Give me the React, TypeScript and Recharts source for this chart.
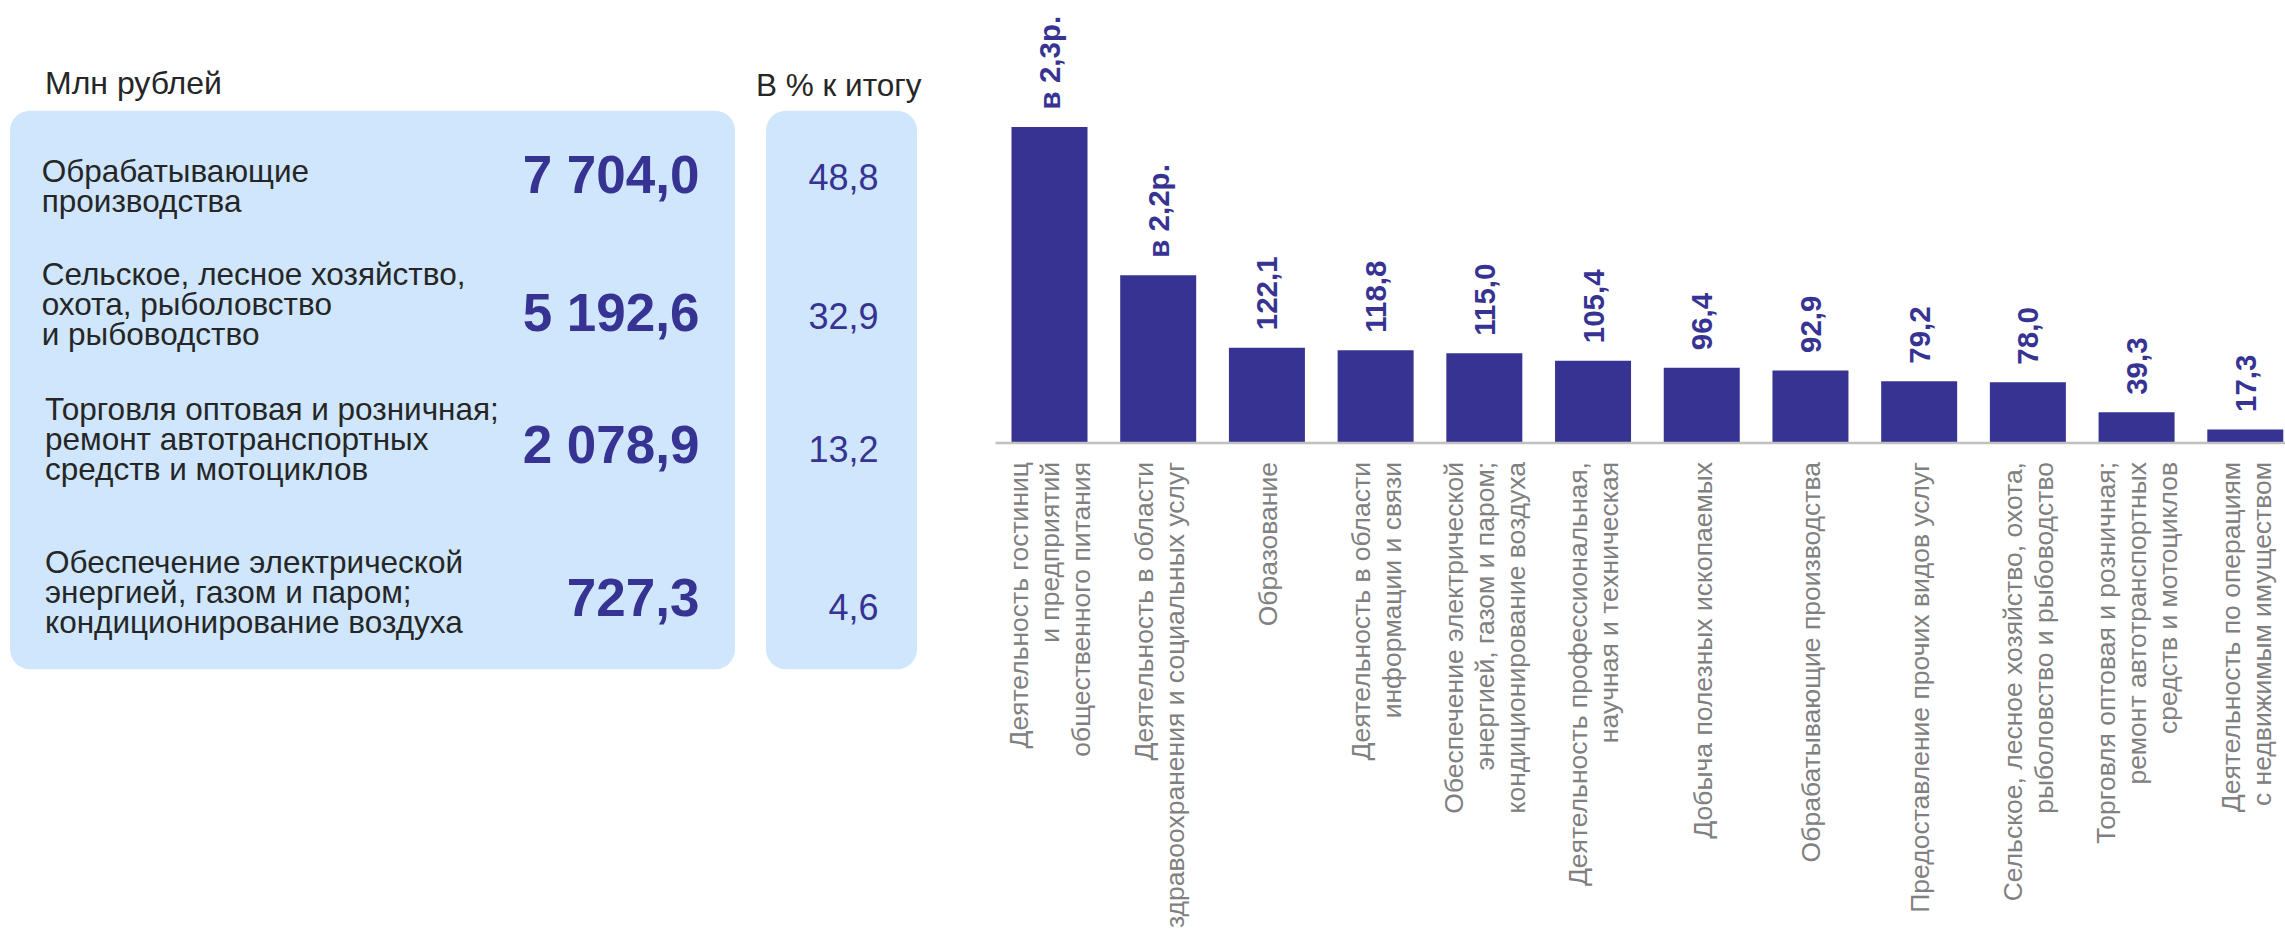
import { BarChart, Bar, XAxis, YAxis, LabelList } from 'recharts';

// left panel
const panelLabels = [
  ['Обрабатывающие', 'производства'],
  ['Сельское, лесное хозяйство,', 'охота, рыболовство', 'и рыбоводство'],
  ['Торговля оптовая и розничная;', 'ремонт автотранспортных', 'средств и мотоциклов'],
  ['Обеспечение электрической', 'энергией, газом и паром;', 'кондиционирование воздуха'],
];
const panelValues = ['7 704,0', '5 192,6', '2 078,9', '727,3'];
const panelShares = ['48,8', '32,9', '13,2', '4,6'];

// bar chart
const categories = [
  'Деятельность гостиниц\nи предприятий\nобщественного питания',
  'Деятельность в области\nздравоохранения и социальных услуг',
  'Образование',
  'Деятельность в области\nинформации и связи',
  'Обеспечение электрической\nэнергией, газом и паром;\nкондиционирование воздуха',
  'Деятельность профессиональная,\nнаучная и техническая',
  'Добыча полезных ископаемых',
  'Обрабатывающие производства',
  'Предоставление прочих видов услуг',
  'Сельское, лесное хозяйство, охота,\nрыболовство и рыбоводство',
  'Торговля оптовая и розничная;\nремонт автотранспортных\nсредств и мотоциклов',
  'Деятельность по операциям\nс недвижимым имуществом',
];
const values = [405, 215, 122.1, 118.8, 115.0, 105.4, 96.4, 92.9, 79.2, 78.0, 39.3, 17.3];
const valueLabels = ['в 2,3р.', 'в 2,2р.', '122,1', '118,8', '115,0', '105,4', '96,4', '92,9', '79,2', '78,0', '39,3', '17,3'];

const data = categories.map((name, i) => ({ name, value: values[i], label: valueLabels[i] }));

const FONT = '"Liberation Sans", Arial, sans-serif';
const BLUE = '#363392';
const BOX = '#cfe6fc';
const DARK = '#262626';

// baselines for the panel rows
const rowTextY = [181.7, 285, 420, 572.7];
const rowTextX = [41.7, 41.7, 45, 45];
const rowValueY = [193.3, 330.7, 463.3, 616];
const rowShareY = [190, 329.3, 461.7, 620];

function CategoryTick(props: any) {
  const { x, y, payload } = props;
  const lines: string[] = String(payload.value).split('\n');
  const lh = 31;
  const fs = 26.5;
  return (
    <g transform={`translate(${x},${y})`}>
      <text transform="rotate(-90)" textAnchor="end" fill="#808080" fontSize={fs} fontFamily={FONT}>
        {lines.map((l, i) => (
          <tspan key={i} x={-19} y={(i - (lines.length - 1) / 2) * lh + fs * 0.36}>
            {l}
          </tspan>
        ))}
      </text>
    </g>
  );
}

function ValueLabel(props: any) {
  const { x, y, width, value } = props;
  const cx = x + width / 2;
  const ty = y - 17.5;
  return (
    <text
      transform={`translate(${cx},${ty}) rotate(-90)`}
      x={0}
      y={10.5}
      textAnchor="start"
      fill={BLUE}
      fontSize={29.5}
      fontWeight="bold"
      fontFamily={FONT}
    >
      {value}
    </text>
  );
}

export default function App() {
  return (
    <div style={{ position: 'absolute', left: 0, top: 0, width: 2285, height: 930, overflow: 'hidden', background: '#fff' }}>
      <svg width={940} height={700} style={{ position: 'absolute', left: 0, top: 0 }} fontFamily={FONT}>
        <text x={45} y={94} fontSize={32} fill={DARK}>Млн рублей</text>
        <text x={756} y={96} fontSize={31.5} fill={DARK}>В % к итогу</text>
        <rect x={10} y={110.7} width={725} height={558.6} rx={20} fill={BOX} />
        <rect x={766} y={110.7} width={151} height={558.6} rx={20} fill={BOX} />
        {panelLabels.map((lines, r) => (
          <text key={r} x={rowTextX[r]} y={rowTextY[r]} fontSize={31.5} fill={DARK}>
            {lines.map((l, i) => (
              <tspan key={i} x={rowTextX[r]} dy={i === 0 ? 0 : 30}>{l}</tspan>
            ))}
          </text>
        ))}
        {panelValues.map((v, r) => (
          <text key={r} x={699.5} y={rowValueY[r]} textAnchor="end" fontSize={53} fontWeight="bold" fill={BLUE}>{v}</text>
        ))}
        {panelShares.map((v, r) => (
          <text key={r} x={878.5} y={rowShareY[r]} textAnchor="end" fontSize={36} fill={BLUE}>{v}</text>
        ))}
      </svg>
      <div style={{ position: 'absolute', left: 980, top: 0 }}>
        <BarChart width={1320} height={930} data={data} margin={{ top: 6, right: 0, bottom: 0, left: 15.5 }}>
          <XAxis
            dataKey="name"
            interval={0}
            tickLine={false}
            tickSize={0}
            tickMargin={0}
            height={487}
            axisLine={{ stroke: '#c0c0c0', strokeWidth: 2.5 }}
            tick={<CategoryTick />}
          />
          <YAxis hide domain={[0, 560]} />
          <Bar dataKey="value" fill={BLUE} barSize={76} isAnimationActive={false}>
            <LabelList dataKey="label" content={<ValueLabel />} />
          </Bar>
        </BarChart>
      </div>
    </div>
  );
}
